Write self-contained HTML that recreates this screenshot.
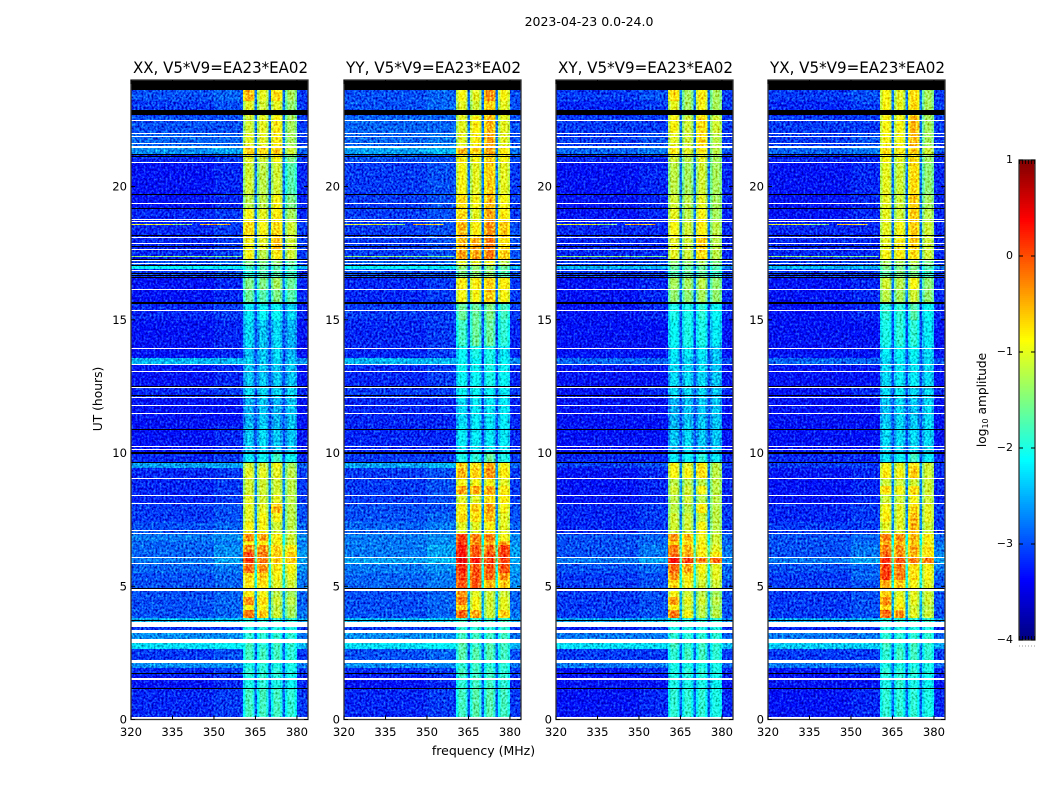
<!DOCTYPE html>
<html lang="en">
<head>
<meta charset="utf-8">
<title>2023-04-23 0.0-24.0 amplitude spectrograms</title>
<style>
html,body{margin:0;padding:0;background:#fff;width:1050px;height:800px;overflow:hidden}
svg{display:block}
text{font-family:"DejaVu Sans","Liberation Sans",sans-serif;fill:#000}
</style>
</head>
<body>
<svg id="figure" xmlns="http://www.w3.org/2000/svg" width="1050" height="800" viewBox="0 0 1050 800">
<defs>
<filter id="grain" filterUnits="userSpaceOnUse" x="120" y="70" width="840" height="660" color-interpolation-filters="sRGB">
<feTurbulence type="fractalNoise" baseFrequency="0.5 0.42" numOctaves="2" seed="4" result="n"/>
<feColorMatrix in="n" type="matrix" values="0 0 0 0.4 0.3  0 0 0 1 0  0 0 0 1 0  0 0 0 0 1" result="g"/>
<feComposite in="SourceGraphic" in2="g" operator="arithmetic" k1="0" k2="1" k3="1.2" k4="-0.6" result="mixed"/>
<feComposite in="mixed" in2="SourceAlpha" operator="in"/>
</filter>
</defs>
<text x="589" y="26" font-size="12.5" text-anchor="middle">2023-04-23 0.0-24.0</text>
<text x="483.5" y="755" font-size="12.5" text-anchor="middle">frequency (MHz)</text>
<text x="0" y="0" font-size="12.3" text-anchor="middle" transform="translate(102 399) rotate(-90)">UT (hours)</text>
<text x="0" y="0" font-size="12.2" text-anchor="middle" transform="translate(986 400) rotate(-90)">log<tspan font-size="8" dy="2">10</tspan><tspan dy="-2"> amplitude</tspan></text>
<g id="panels"></g>
<g id="colorbar"></g>
</svg>
<script>
// Values are log10 amplitude in tenths. Time in hours, frequency in MHz.
const timeEdges = [0,1.2,1.65,1.95,2.12,2.65,2.9,3.25,3.47,3.8,4.1,4.3,4.6,4.85,5.25,5.5,5.85,6.1,6.3,6.55,6.7,7,7.4,7.75,8.1,8.45,8.75,9.05,9.45,9.66,10,11,12.1,12.5,13.33,13.58,14,15,15.6,16.14,16.6,16.9,17.05,17.25,17.65,18.1,18.7,19.2,19.7,20.9,21.2,21.45,22,22.65,23.2,24];
const channelEdges = [320,350,360.5,364.7,365.6,369.7,370.7,374.7,375.7,380,384];
const bandShape = [-3,0,0,0,-2];
const xTickLabels = [320,335,350,365,380];
const yTickLabels = [0,5,10,15,20];
const colorbarTicks = [1,0,-1,-2,-3,-4];
const panelTitles = ['XX, V5*V9=EA23*EA02','YY, V5*V9=EA23*EA02','XY, V5*V9=EA23*EA02','YX, V5*V9=EA23*EA02'];
// Level of the narrow gaps between the bands, one per time row
const gapLevels = [-29,-29,-29,-29,-29,-28,-29,-29,-29,-25,-25,-25,-25,-20,-20,-20,-17,-17,-17,-21,-21,-27,-27,-27,-27,-27,-27,-27,-27,-30,-30,-30,-30,-30,-30,-30,-30,-30,-28,-28,-29,-29,-29,-28,-28,-28,-28,-28,-28,-28,-28,-28,-28,-28,-28];
// Each row: background, near-band, band1, band2, band3, band4, right edge
const xxRows = [
[-32,-31,-18,-18,-18,-19,-31],[-33,-32,-20,-19,-20,-21,-32],[-32,-31,-19,-19,-19,-20,-31],[-27,-27,-20,-19,-20,-20,-28],[-31,-30,-18,-18,-18,-19,-31],
[-23,-22,-18,-19,-18,-19,-25],[-27,-27,-19,-19,-19,-19,-28],[-31,-31,-20,-20,-20,-20,-31],[-25,-24,-19,-19,-19,-19,-26],[-30,-29,-2,-6,-11,-13,-28],
[-30,-29,-9,-9,-12,-13,-29],[-30,-29,-3,-7,-11,-12,-29],[-30,-29,-8,-9,-12,-13,-29],[-30,-29,-8,-7,-10,-11,-28],[-30,-29,-7,-6,-9,-10,-28],
[-29,-28,-1,-3,-8,-9,-27],[-28,-26,1,-2,-6,-6,-26],[-29,-27,1,-2,-6,-6,-26],[-29,-27,-3,-3,-6,-8,-27],[-29,-28,-8,-8,-9,-11,-28],
[-28,-27,-3,-4,-8,-11,-27],[-30,-29,-9,-9,-11,-12,-29],[-31,-30,-10,-9,-9,-12,-30],[-31,-30,-10,-10,-5,-12,-30],[-32,-31,-10,-11,-10,-12,-31],
[-32,-31,-11,-11,-11,-12,-31],[-32,-31,-11,-11,-11,-12,-31],[-32,-31,-10,-10,-10,-12,-31],[-26,-26,-11,-11,-9,-13,-29],[-32,-31,-22,-21,-18,-21,-32],
[-33,-32,-24,-23,-24,-24,-33],[-33,-33,-25,-24,-25,-24,-33],[-32,-31,-23,-23,-23,-23,-32],[-33,-32,-24,-24,-24,-24,-33],[-25,-25,-23,-24,-23,-24,-27],
[-33,-32,-24,-24,-23,-25,-33],[-33,-32,-23,-24,-23,-25,-33],[-32,-31,-22,-21,-21,-23,-32],[-33,-32,-16,-17,-15,-17,-32],[-33,-32,-15,-15,-13,-16,-32],
[-31,-30,-19,-17,-17,-18,-31],[-22,-22,-18,-17,-17,-18,-25],[-30,-29,-15,-15,-14,-16,-31],[-32,-31,-9,-12,-8,-11,-31],[-32,-31,-9,-10,-5,-11,-31],
[-32,-31,-7,-9,-7,-11,-31],[-32,-31,-9,-10,-8,-13,-32],[-33,-32,-12,-12,-9,-15,-32],[-33,-32,-11,-12,-11,-17,-32],[-32,-31,-10,-11,-9,-15,-31],
[-27,-26,-6,-7,-6,-11,-29],[-29,-29,-10,-10,-8,-13,-31],[-30,-30,-11,-10,-8,-13,-31],[-31,-30,-10,-11,-10,-14,-31],[-30,-29,-5,-10,-7,-13,-31]
];
const yyRows = [
[-32,-31,-18,-17,-17,-18,-31],[-33,-32,-19,-18,-18,-19,-32],[-32,-31,-18,-18,-18,-19,-31],[-27,-27,-19,-18,-19,-19,-28],[-30,-29,-17,-17,-17,-18,-30],
[-23,-22,-17,-18,-17,-18,-25],[-27,-27,-18,-18,-18,-18,-28],[-31,-31,-19,-19,-19,-19,-31],[-25,-24,-18,-18,-18,-18,-26],[-30,-29,-1,-4,-11,-6,-28],
[-30,-29,-6,-9,-11,-10,-29],[-30,-29,-2,-9,-11,-10,-29],[-30,-29,-3,-10,-11,-11,-29],[-29,-28,0,0,-5,-6,-27],[-29,-28,1,0,-1,-3,-27],
[-28,-27,2,0,0,0,-26],[-26,-25,5,3,1,1,-26],[-28,-26,3,0,0,1,-26],[-28,-26,3,0,-1,1,-26],[-28,-27,1,-3,-4,-4,-27],
[-28,-27,1,-2,-2,-9,-27],[-29,-28,-10,-10,-8,-10,-29],[-30,-29,-7,-7,-5,-10,-30],[-30,-30,-8,-6,-4,-9,-30],[-31,-30,-10,-10,-7,-8,-31],
[-31,-30,-4,-4,-4,-8,-31],[-31,-30,-9,-9,-9,-10,-31],[-31,-30,-5,-6,-3,-8,-31],[-26,-25,-6,-7,-4,-9,-29],[-31,-31,-20,-19,-16,-20,-31],
[-32,-32,-22,-22,-22,-22,-32],[-32,-32,-23,-22,-22,-22,-32],[-31,-31,-21,-21,-21,-22,-31],[-32,-31,-21,-21,-20,-21,-32],[-25,-25,-21,-21,-20,-21,-27],
[-32,-31,-21,-20,-20,-22,-32],[-32,-31,-18,-16,-16,-19,-32],[-31,-31,-16,-16,-15,-18,-31],[-32,-31,-9,-9,-6,-9,-31],[-32,-31,-8,-8,-6,-8,-31],
[-30,-30,-15,-14,-14,-17,-30],[-22,-22,-14,-14,-14,-16,-25],[-29,-29,-10,-10,-9,-12,-30],[-31,-30,-4,-4,-2,-6,-30],[-31,-30,-5,-4,-2,-7,-30],
[-31,-30,-5,-8,-3,-6,-30],[-31,-30,-7,-10,-4,-8,-31],[-31,-30,-7,-9,-5,-9,-31],[-31,-30,-9,-10,-6,-10,-31],[-30,-30,-8,-9,-6,-9,-30],
[-26,-25,-5,-6,-4,-8,-28],[-29,-28,-10,-8,-4,-10,-30],[-29,-29,-10,-8,-5,-10,-30],[-30,-29,-10,-11,-6,-10,-30],[-30,-29,-9,-10,-3,-9,-30]
];
const xyRows = [
[-33,-32,-19,-19,-19,-20,-32],[-33,-33,-20,-20,-20,-21,-33],[-33,-32,-20,-19,-19,-20,-32],[-28,-28,-20,-20,-20,-20,-29],[-31,-31,-19,-18,-18,-19,-31],
[-23,-23,-18,-19,-18,-19,-25],[-28,-28,-19,-19,-19,-19,-29],[-32,-31,-20,-20,-20,-20,-32],[-26,-25,-19,-19,-19,-19,-27],[-31,-30,-2,-9,-12,-12,-30],
[-31,-30,-8,-11,-12,-13,-30],[-31,-30,-4,-10,-11,-12,-30],[-31,-30,-9,-11,-12,-13,-30],[-31,-30,-7,-9,-11,-11,-30],[-31,-30,-3,-7,-10,-10,-29],
[-30,-29,-1,-4,-9,-10,-29],[-28,-26,4,1,-2,-1,-27],[-30,-28,-1,-4,-8,-8,-28],[-30,-28,-2,-5,-8,-10,-28],[-30,-29,-6,-7,-9,-11,-29],
[-30,-29,-3,-5,-9,-11,-29],[-32,-31,-11,-11,-9,-12,-31],[-32,-31,-11,-11,-11,-12,-31],[-32,-31,-12,-12,-8,-12,-31],[-33,-32,-12,-11,-12,-12,-32],
[-33,-32,-11,-11,-9,-12,-32],[-33,-32,-12,-12,-12,-12,-32],[-33,-32,-9,-9,-7,-12,-32],[-31,-30,-9,-10,-8,-12,-31],[-32,-32,-22,-21,-19,-22,-32],
[-33,-33,-24,-23,-24,-24,-33],[-33,-33,-25,-24,-24,-24,-33],[-33,-32,-23,-23,-23,-24,-32],[-33,-33,-23,-23,-23,-24,-33],[-29,-29,-23,-23,-23,-24,-30],
[-33,-33,-22,-22,-22,-24,-33],[-33,-33,-21,-20,-20,-22,-33],[-33,-32,-20,-20,-19,-21,-32],[-33,-32,-14,-14,-13,-14,-32],[-33,-32,-13,-13,-12,-14,-32],
[-31,-31,-17,-16,-16,-18,-31],[-25,-25,-16,-16,-16,-17,-27],[-31,-30,-14,-14,-13,-15,-31],[-32,-32,-10,-11,-7,-12,-32],[-32,-32,-10,-11,-6,-12,-32],
[-32,-32,-9,-11,-8,-12,-32],[-33,-32,-10,-12,-9,-13,-32],[-33,-32,-11,-12,-10,-13,-32],[-33,-32,-12,-13,-11,-13,-32],[-32,-32,-11,-12,-10,-13,-32],
[-29,-28,-8,-10,-8,-12,-30],[-31,-30,-10,-11,-7,-12,-31],[-31,-31,-9,-11,-7,-11,-31],[-32,-31,-10,-13,-9,-13,-31],[-31,-30,-7,-13,-8,-13,-31]
];
const yxRows = [
[-33,-32,-19,-19,-19,-20,-32],[-33,-33,-20,-19,-20,-21,-33],[-33,-32,-19,-19,-19,-20,-32],[-28,-28,-20,-20,-20,-20,-29],[-31,-31,-19,-18,-18,-19,-31],
[-24,-24,-18,-19,-18,-19,-26],[-28,-28,-19,-19,-19,-19,-29],[-32,-31,-20,-20,-20,-20,-32],[-26,-25,-19,-19,-19,-19,-27],[-31,-30,-1,-3,-10,-11,-30],
[-31,-30,-6,-8,-11,-12,-30],[-31,-30,-3,-9,-10,-11,-30],[-31,-30,-6,-10,-10,-11,-30],[-31,-30,-4,-6,-9,-10,-30],[-31,-29,1,-2,-7,-9,-29],
[-30,-29,1,-2,-7,-9,-28],[-28,-26,2,0,-2,-2,-26],[-30,-28,-1,-3,-5,-7,-27],[-30,-28,-2,-3,-4,-7,-28],[-30,-29,-4,-5,-6,-9,-28],
[-30,-29,-2,-3,-5,-8,-29],[-31,-31,-10,-10,-5,-11,-31],[-32,-31,-8,-10,-5,-10,-31],[-32,-31,-9,-10,-7,-10,-31],[-33,-32,-11,-11,-9,-11,-32],
[-33,-32,-7,-9,-7,-11,-32],[-33,-32,-11,-11,-11,-11,-32],[-33,-32,-8,-9,-6,-11,-32],[-31,-31,-9,-10,-7,-11,-31],[-32,-32,-22,-21,-18,-22,-32],
[-33,-33,-23,-23,-23,-23,-33],[-33,-33,-24,-23,-24,-23,-33],[-33,-32,-23,-22,-23,-23,-32],[-33,-33,-23,-22,-22,-23,-33],[-29,-29,-23,-22,-22,-23,-30],
[-33,-33,-22,-21,-21,-23,-33],[-33,-33,-20,-19,-19,-22,-33],[-33,-32,-19,-19,-17,-21,-32],[-33,-32,-12,-13,-11,-14,-32],[-33,-32,-11,-12,-9,-14,-32],
[-31,-31,-16,-15,-15,-18,-31],[-25,-25,-15,-15,-15,-17,-27],[-31,-30,-13,-13,-12,-15,-31],[-32,-32,-9,-8,-7,-11,-32],[-32,-32,-10,-8,-6,-11,-32],
[-32,-32,-10,-9,-6,-11,-32],[-33,-32,-10,-11,-6,-12,-32],[-33,-32,-10,-11,-6,-13,-32],[-33,-32,-10,-11,-7,-14,-32],[-32,-32,-9,-10,-7,-13,-32],
[-29,-28,-7,-8,-6,-11,-30],[-31,-30,-9,-9,-5,-13,-31],[-31,-31,-9,-9,-5,-13,-31],[-32,-31,-9,-10,-7,-13,-31],[-31,-30,-9,-10,-7,-13,-31]
];
const panelRows = [xxRows, yyRows, xyRows, yxRows];
// Flagged time ranges (hours)
const whiteFlags = [[0,0.09],[1.49,1.55],[2.12,2.24],[2.87,3.02],[3.24,3.36],[3.47,3.66],[4.83,4.88],[5.85,5.89],[6.07,6.11],[6.95,6.99],[7.09,7.13],[8.1,8.14],[8.4,8.44],[9.04,9.08],[10.12,10.16],[10.24,10.28],[11.47,11.51],[11.77,11.81],[12.07,12.11],[12.43,12.47],[13.05,13.09],[13.31,13.35],[13.91,13.95],[15.34,15.38],[16.12,16.16],[16.84,16.88],[17.1,17.14],[17.19,17.23],[17.62,17.66],[17.85,17.89],[18.07,18.11],[18.67,18.71],[18.75,18.79],[19.35,19.39],[20.88,20.92],[21.43,21.52],[21.6,21.64],[21.86,21.9],[21.97,22.01],[22.46,22.5]];
const blackFlags = [[1.16,1.2],[1.69,1.73],[3.71,3.75],[4.88,4.92],[9.64,9.68],[9.96,10.03],[10.87,10.91],[12.15,12.19],[12.48,12.52],[15.58,15.66],[16.57,16.61],[16.65,16.69],[16.72,16.76],[17.02,17.06],[17.25,17.29],[17.74,17.78],[18.15,18.19],[19.16,19.2],[19.69,19.73],[21.11,21.15],[21.18,21.22],[22.67,22.89],[23.64,24]];
// Narrow interference lines: hour, start MHz, end MHz, value
const interferenceLines = [[18.56,320,335,-10],[18.56,335,342,-14],[18.56,345,356,-6],[17.34,320,345,-14],[17.34,345,360,-15]];

const NS = 'http://www.w3.org/2000/svg';
const panelLeft = [131, 344, 556, 768];
const panelWidth = 177, plotTop = 80, plotBottom = 719.5;
const freqMin = 320, freqMax = 384, timeMax = 24;
function yScale(h){ return plotBottom - (h / timeMax) * (plotBottom - plotTop); }
function xScale(p, f){ return panelLeft[p] + (f - freqMin) / (freqMax - freqMin) * panelWidth; }
function jet(v){
  const t = Math.min(1, Math.max(0, (v + 4) / 5));
  const ramp = c => Math.round(255 * Math.min(1, Math.max(0, 1.5 - Math.abs(4 * t - c))));
  return 'rgb(' + ramp(3) + ',' + ramp(2) + ',' + ramp(1) + ')';
}
function add(parent, tag, attrs){
  const el = document.createElementNS(NS, tag);
  for (const k in attrs) el.setAttribute(k, attrs[k]);
  parent.appendChild(el);
  return el;
}
function addCell(parent, p, f0, f1, h0, h1, tenths){
  const y0 = Math.round(yScale(h1)), y1 = Math.round(yScale(h0));
  const x0 = xScale(p, f0), x1 = xScale(p, f1);
  const c = add(parent, 'rect', {x: x0, y: y0, width: Math.max(0.5, x1 - x0), height: Math.max(1, y1 - y0), fill: jet(tenths / 10), 'shape-rendering': 'crispEdges'});
  
  
  return c;
}
const panelsRoot = document.getElementById('panels');
panelRows.forEach(function(rows, p){
  const g = add(panelsRoot, 'g', {});
  
  

  const cells = add(g, 'g', {filter: 'url(#grain)'});
  
  
  rows.forEach(function(r, i){
    const h0 = timeEdges[i], h1 = timeEdges[i + 1];
    addCell(cells, p, channelEdges[0], channelEdges[1], h0, h1, r[0]);
    addCell(cells, p, channelEdges[1], channelEdges[2], h0, h1, r[1]);
    [0, 1, 2, 3].forEach(function(b){
      const a = channelEdges[2 + b * 2], e = channelEdges[3 + b * 2];
      bandShape.forEach(function(off, s){
        const w = (e - a) / bandShape.length;
        addCell(cells, p, a + s * w, a + (s + 1) * w, h0, h1, r[2 + b] + off);
      });
      if (b < 3) addCell(cells, p, e, channelEdges[4 + b * 2], h0, h1, gapLevels[i]);
    });
    addCell(cells, p, channelEdges[9], channelEdges[10], h0, h1, r[6]);
  });
  interferenceLines.forEach(function(l){
    addCell(cells, p, l[1], l[2], l[0], l[0] + 0.04, l[3]);
  });

  whiteFlags.forEach(function(fl){
    const y0 = Math.round(yScale(fl[1])), y1 = Math.round(yScale(fl[0]));
    const m = add(g, 'rect', {x: panelLeft[p], y: y0, width: panelWidth, height: Math.max(1, y1 - y0), fill: '#fff', 'shape-rendering': 'crispEdges'});
    
    
  });
  blackFlags.forEach(function(fl){
    const y0 = Math.round(yScale(fl[1])), y1 = Math.round(yScale(fl[0]));
    const m = add(g, 'rect', {x: panelLeft[p], y: y0, width: panelWidth, height: Math.max(1, y1 - y0), fill: '#000', 'shape-rendering': 'crispEdges'});
    
    
  });

  const frame = add(g, 'rect', {x: panelLeft[p], y: plotTop, width: panelWidth, height: plotBottom - plotTop, fill: 'none', stroke: '#333', 'stroke-width': 1.3});
  
  

  const title = add(g, 'text', {x: panelLeft[p] + 2, y: 73, 'font-size': 16, textLength: 175, lengthAdjust: 'spacingAndGlyphs'});
  
  
  title.textContent = panelTitles[p];

  xTickLabels.forEach(function(f){
    const x = xScale(p, f);
    const t1 = add(g, 'line', {x1: x, x2: x, y1: plotBottom, y2: plotBottom - 4, stroke: '#000'});
    
    
    const t2 = add(g, 'line', {x1: x, x2: x, y1: plotTop, y2: plotTop + 4, stroke: '#000'});
    
    
    const lb = add(g, 'text', {x: x, y: 736, 'font-size': 11.6, 'text-anchor': 'middle'});
    
    
    lb.textContent = f;
  });
  yTickLabels.forEach(function(h){
    const y = yScale(h);
    const t1 = add(g, 'line', {x1: panelLeft[p], x2: panelLeft[p] + 4, y1: y, y2: y, stroke: '#000'});
    
    
    const t2 = add(g, 'line', {x1: panelLeft[p] + panelWidth, x2: panelLeft[p] + panelWidth - 4, y1: y, y2: y, stroke: '#000'});
    
    
    const lb = add(g, 'text', {x: panelLeft[p] - 4, y: y + 4, 'font-size': 11.6, 'text-anchor': 'end'});
    
    
    lb.textContent = h;
  });
});

// Colorbar
const cb = document.getElementById('colorbar');
const cbLeft = 1019, cbRight = 1035, cbTop = 160, cbBottom = 640;
function cbScale(v){ return cbBottom - (v + 4) / 5 * (cbBottom - cbTop); }
for (let py = cbTop; py < cbBottom; py += 2) {
  const v = -4 + (cbBottom - py - 1) / (cbBottom - cbTop) * 5;
  const s = add(cb, 'rect', {x: cbLeft, y: py, width: cbRight - cbLeft, height: 2, fill: jet(v), 'shape-rendering': 'crispEdges'});
  
  
}
const cbFrame = add(cb, 'rect', {x: cbLeft, y: cbTop, width: cbRight - cbLeft, height: cbBottom - cbTop, fill: 'none', stroke: '#333', 'stroke-width': 1.3});


colorbarTicks.forEach(function(v){
  const y = cbScale(v);
  const a = add(cb, 'line', {x1: cbLeft, x2: cbLeft + 4, y1: y, y2: y, stroke: '#000'});
  
  
  const b = add(cb, 'line', {x1: cbRight, x2: cbRight - 4, y1: y, y2: y, stroke: '#000'});
  
  
  const lb = add(cb, 'text', {x: 1013, y: y + 3, 'font-size': 11, 'text-anchor': 'end'});
  
  
  lb.textContent = v < 0 ? '\u2212' + Math.abs(v) : String(v);
});
for (let i = 0; i < 6; i++) {
  const x = cbLeft + 0.5 + i * 3;
  const a = add(cb, 'line', {x1: x, x2: x, y1: cbTop, y2: cbTop + 4, stroke: '#000', 'stroke-width': 0.8});
  
  
  const b = add(cb, 'line', {x1: x, x2: x, y1: cbBottom, y2: cbBottom - 4, stroke: '#000', 'stroke-width': 0.8});
  
  
  const d = add(cb, 'rect', {x: x - 0.5, y: 645.5, width: 1, height: 1, fill: '#999'});
  
  
}
</script>
</body>
</html>
